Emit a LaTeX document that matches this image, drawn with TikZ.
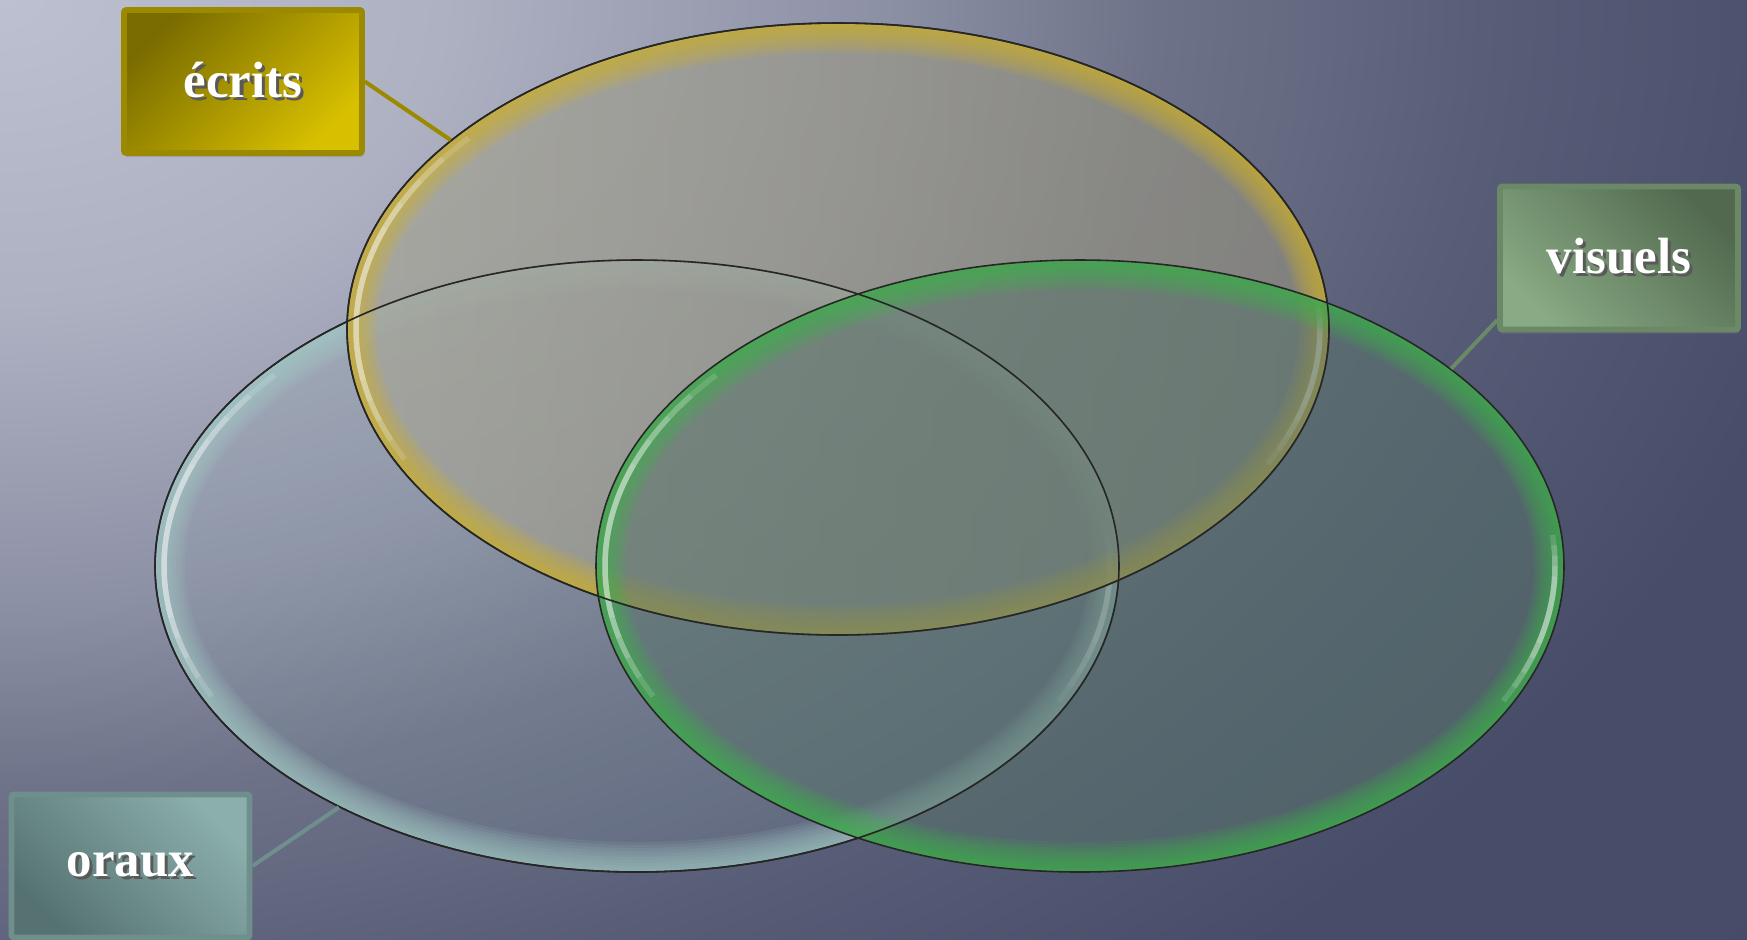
\documentclass[tikz,border=0pt]{standalone}
\usepackage{fontspec}
\setmainfont{Liberation Serif}
\usetikzlibrary{shapes.geometric, shadows}

\definecolor{bgzero}{HTML}{BCC0D0}
\definecolor{bgone}{HTML}{AEB1C2}
\definecolor{bgtwo}{HTML}{8C90A5}
\definecolor{bgthree}{HTML}{6E7288}
\definecolor{bgfour}{HTML}{555A75}
\definecolor{bgfive}{HTML}{474C68}
\definecolor{bgsix}{HTML}{444A66}
\definecolor{ecrdark}{HTML}{7A6C00}
\definecolor{ecrlight}{HTML}{D8C000}
\definecolor{ecrline}{HTML}{9B8900}
\definecolor{visdark}{HTML}{52694F}
\definecolor{vislight}{HTML}{88AA84}
\definecolor{visline}{HTML}{6B8967}
\definecolor{oradark}{HTML}{557270}
\definecolor{oralight}{HTML}{8BAFAD}
\definecolor{oraline}{HTML}{6F8F8D}
\definecolor{ecrfilla}{HTML}{A6A598}
\definecolor{ecrfillb}{HTML}{8C8A7E}
\definecolor{visfill}{HTML}{58736A}
\definecolor{orafill}{HTML}{8FB0B0}
\definecolor{goldglow}{HTML}{D2B428}
\definecolor{greenglow}{HTML}{3CB848}
\definecolor{tealglow}{HTML}{A6CEC8}

% light corner at the top left of the slide
\pgfdeclareradialshading{bgshade}{\pgfpointorigin}{color(0bp)=(bgzero); color(5.75bp)=(bgone); color(11.5bp)=(bgtwo); color(15bp)=(bgthree); color(20bp)=(bgfour); color(24.25bp)=(bgfive); color(50bp)=(bgsix)}

% white text with a small dark shadow
\newcommand{\shtxt}[1]{\makebox[0pt][l]{\kern0.9pt\raisebox{-0.9pt}{\color{black!65}#1}}#1}

% inner glow and shine of a set, drawn as path picture
\newcommand{\vennglow}[3]{%
  \foreach \g in {3,6,...,30}
    \draw[#1, opacity=0.11, line width={\g*0.2mm}] (path picture bounding box.center) ellipse [x radius=#2cm, y radius=#3cm];
  \pgfmathsetmacro\hx{#2-0.09}
  \pgfmathsetmacro\hy{#3-0.09}
  \foreach \k in {0,...,4} {
    \draw[white, opacity=0.14, line width=0.55mm] ([shift={(140+5*\k:\hx cm and \hy cm)}]path picture bounding box.center) arc [start angle=140+5*\k, end angle=206-4*\k, x radius=\hx cm, y radius=\hy cm];
    \draw[white, opacity=0.14, line width=0.55mm] ([shift={(333+3*\k:\hx cm and \hy cm)}]path picture bounding box.center) arc [start angle=333+3*\k, end angle=366-2*\k, x radius=\hx cm, y radius=\hy cm];
  }
}

\tikzstyle{vennset} = [ellipse, draw=black!85, line width=0.45pt, inner sep=0pt, minimum height=6.12cm]
\tikzstyle{ecrset} = [vennset, minimum width=9.82cm, left color=ecrfilla, right color=ecrfillb, fill opacity=0.74, path picture={\vennglow{goldglow}{4.91}{3.06}}]
\tikzstyle{oraset} = [vennset, minimum width=9.64cm, fill=orafill, fill opacity=0.15, path picture={\vennglow{tealglow}{4.82}{3.06}}]
\tikzstyle{visset} = [vennset, minimum width=9.68cm, fill=visfill, fill opacity=0.55, path picture={\vennglow{greenglow}{4.84}{3.06}}]
\tikzstyle{rim} = [draw=black!85, line width=0.45pt]

\tikzstyle{labelbox} = [rectangle, rounded corners=0.6pt, minimum width=2.38cm, minimum height=1.43cm, line width=1.6pt, text=white, font=\fontsize{14.5}{17}\selectfont\bfseries, drop shadow={shadow xshift=0.3pt, shadow yshift=-1.2pt, opacity=0.35}]
\tikzstyle{ecrbox} = [labelbox, draw=ecrline, top color=ecrdark, bottom color=ecrlight, shading angle=45]
\tikzstyle{visbox} = [labelbox, draw=visline, top color=visdark, bottom color=vislight, shading angle=-45]
\tikzstyle{orabox} = [labelbox, draw=oraline, top color=oralight, bottom color=oradark, shading angle=-45]
\tikzstyle{link} = [line width=1.15pt]

\begin{document}
\begin{tikzpicture}[x=0.1mm, y=-0.1mm]
  \useasboundingbox (0,0) rectangle (1747,939);
  \begin{scope}
    \clip (0,0) rectangle (1747,939);
    \shade [shading=bgshade] (-1930,-1320) rectangle (1930,1320);
  \end{scope}

  % the three sets
  \node (oral) [oraset] at (637,566) {};
  \node (ecrit) [ecrset] at (838,329) {};
  \node (visuel) [visset] at (1080,566) {};
  % all rims stay on top
  \draw [rim] (oral.center) ellipse [x radius=4.82cm, y radius=3.06cm];
  \draw [rim] (ecrit.center) ellipse [x radius=4.91cm, y radius=3.06cm];

  % labels
  \node (ecr) [ecrbox] at (243,81.5) {\shtxt{écrits}};
  \node (vis) [visbox] at (1619,258) {\shtxt{visuels}};
  \node (ora) [orabox] at (130.5,866) {\shtxt{oraux}};

  \draw [link, ecrline] (ecr.east) -- (ecrit.154);
  \draw [link, visline] (vis.207) -- (visuel.28);
  \draw [link, oraline] (ora.east) -- (oral.219);
\end{tikzpicture}
\end{document}
